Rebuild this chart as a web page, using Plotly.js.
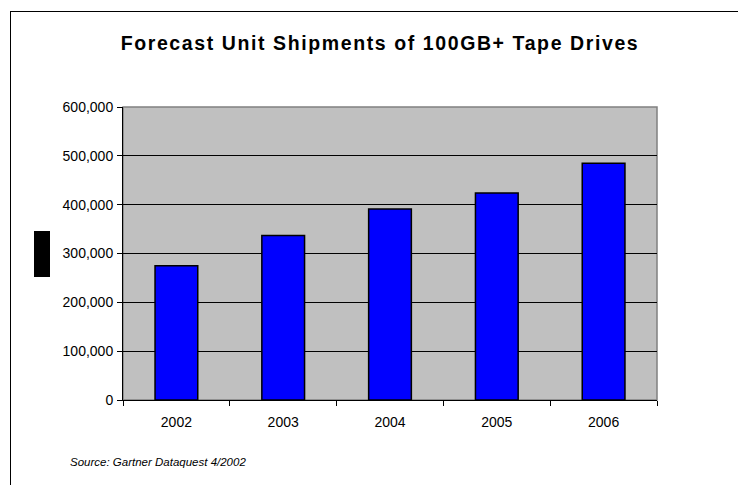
<!DOCTYPE html>
<html>
<head>
<meta charset="utf-8">
<script src="https://cdn.plot.ly/plotly-3.0.1.min.js"></script>
<style>
  html, body { margin: 0; padding: 0; background: #fff; overflow: hidden; }
  #wrap { position: relative; width: 738px; height: 485px; }
  #chart { position: absolute; left: 0; top: 0; width: 738px; height: 485px; }
  #chart .gtitle { letter-spacing: 1.6px; }
  #frame { position: absolute; left: 10px; top: 11px; width: 740px; height: 490px;
           border-left: 1px solid #000; border-top: 1px solid #000; pointer-events: none; }
</style>
</head>
<body>
<div id="wrap">
  <div id="chart"></div>
  <div id="frame"></div>
</div>
<script>
// Forecast shipments of 100GB+ tape drives, by year
const years = ['2002', '2003', '2004', '2005', '2006'];
const units = [275000, 337000, 391000, 424000, 485000];
const yTicks = [0, 100000, 200000, 300000, 400000, 500000, 600000];

const FONT = '"Liberation Sans", Arial, sans-serif';

const trace = {
  type: 'bar',
  x: years,
  y: units,
  marker: { color: '#0000FF', line: { color: '#000000', width: 1.5 } },
  hoverinfo: 'x+y'
};

const layout = {
  width: 738,
  height: 485,
  margin: { l: 123, r: 81, t: 107, b: 85 },
  paper_bgcolor: '#ffffff',
  plot_bgcolor: '#C0C0C0',
  bargap: 0.6,
  showlegend: false,
  font: { family: FONT, size: 14, color: '#000' },
  title: {
    text: '<b>Forecast Unit Shipments of 100GB+ Tape Drives</b>',
    font: { family: FONT, size: 19.5, color: '#000' },
    xref: 'container', x: 380 / 738, xanchor: 'center',
    yref: 'container', y: 1 - 43 / 485, yanchor: 'middle'
  },
  xaxis: {
    type: 'category',
    showgrid: false,
    showline: true, linecolor: '#000', linewidth: 1,
    ticks: 'outside', tickson: 'boundaries', ticklen: 5, tickcolor: '#000', tickwidth: 1,
    ticklabelstandoff: 9,
    tickfont: { family: FONT, size: 14, color: '#000' }
  },
  yaxis: {
    range: [0, 600000],
    tickvals: yTicks,
    tickformat: ',d',
    showgrid: true, gridcolor: '#000', gridwidth: 1,
    zeroline: false,
    showline: true, linecolor: '#000', linewidth: 1,
    ticks: 'outside', ticklen: 5, tickcolor: '#000', tickwidth: 1,
    ticklabelstandoff: 1,
    tickfont: { family: FONT, size: 14, color: '#000' }
  },
  shapes: [
    // plot area border
    { type: 'rect', xref: 'paper', yref: 'paper', x0: 0, x1: 1, y0: 0, y1: 1,
      line: { color: '#808080', width: 1.5 }, fillcolor: 'rgba(0,0,0,0)', layer: 'below' },
    // blacked-out axis title block
    { type: 'rect', xref: 'paper', yref: 'paper',
      x0: (34 - 123) / 534, x1: (50 - 123) / 534,
      y0: (400 - 277) / 293, y1: (400 - 231) / 293,
      line: { width: 0 }, fillcolor: '#000000' }
  ],
  annotations: [
    { text: '<i>Source: Gartner Dataquest 4/2002</i>',
      xref: 'paper', yref: 'paper',
      x: (68 - 123) / 534, xanchor: 'left',
      y: (400 - 462) / 293, yanchor: 'middle',
      showarrow: false,
      font: { family: FONT, size: 11.5, color: '#000' } }
  ]
};

Plotly.newPlot('chart', [trace], layout, { displayModeBar: false, staticPlot: true });
</script>
</body>
</html>
